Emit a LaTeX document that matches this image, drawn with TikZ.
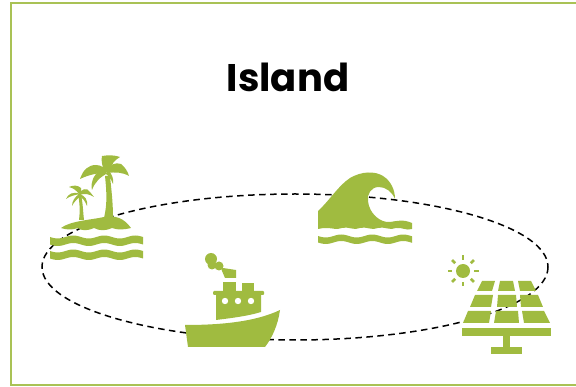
\documentclass[tikz,border=0pt]{standalone}
\usepackage{fontspec}
\setmainfont{Poppins}
\usepackage{xcolor}
\usepackage{tikz}
\definecolor{leaf}{HTML}{A0BB40}
\definecolor{frameline}{HTML}{A9C255}
\newcommand{\waveband}[5]{% x0, x1, ytop, thickness, period
  \fill[icon] plot[domain=#1:#2, samples=50, smooth] (\x,{#3+1.5*sin((\x-#1)/#5*360)})
    -- plot[domain=#2:#1, samples=50, smooth] (\x,{#3+#4+1.5*sin((\x-#1)/#5*360)}) -- cycle;
}
\begin{document}
\begin{tikzpicture}[
        x=1pt, y=-1pt,
        icon/.style={fill=leaf, draw=none},
        orbit/.style={draw=black, line width=1.5pt, dash pattern=on 6.5pt off 4.5pt},
        frameedge/.style={draw=frameline, line width=2pt}
    ]
        \useasboundingbox (0,0) rectangle (576,387);
        \draw[frameedge] (576,3.5) -- (10.5,3.5) -- (10.5,385) -- (576,385);
        \node[font=\bfseries\fontsize{38.5}{42}\selectfont, inner sep=0pt] (title) at (288,77) {Island};

        % route round the icons
        \draw[orbit] (295,267) ellipse [x radius=253, y radius=73];

        % island
        \waveband{50}{143}{237}{7.5}{31}
        \waveband{50}{143}{251}{7.5}{31}
        \fill[icon] (61,228) .. controls (70,221) and (90,220) .. (104,217) .. controls (115,215) and (124,218) .. (131,228)
            .. controls (122,230) and (118,230) .. (112,228) .. controls (105,231) and (100,231) .. (94,228)
            .. controls (87,231) and (82,231) .. (78,228) .. controls (72,230) and (67,230) .. (61,228) -- cycle;
        \fill[icon] (104,218) .. controls (107,205) and (107,195) .. (105,176) -- (110,176) .. controls (112,195) and (113,205) .. (113,218) -- cycle;
        \fill[icon] (80,179) .. controls (83,170) and (88,165) .. (96,165) .. controls (101,165) and (105,168) .. (108,172)
            .. controls (100,173) and (90,174) .. (80,179) -- cycle;
        \fill[icon] (92,190) .. controls (90,182) and (94,175) .. (100,170) -- (108,173) .. controls (100,177) and (95,182) .. (92,190) -- cycle;
        \fill[icon] (104,171) .. controls (102,165) and (101,160) .. (102,156) .. controls (108,155) and (115,155) .. (120,157)
            .. controls (115,160) and (111,164) .. (110,171) -- cycle;
        \fill[icon] (107,172) .. controls (109,164) and (116,162) .. (121,164) .. controls (125,167) and (128,172) .. (129,176)
            .. controls (122,172) and (115,172) .. (107,173) -- cycle;
        \fill[icon] (108,170) .. controls (112,174) and (114,179) .. (113,184) .. controls (111,179) and (109,176) .. (106,174) -- cycle;
        \fill[icon] (79,220) .. controls (80,212) and (80,204) .. (78,194) -- (81,194) .. controls (83,204) and (83,212) .. (84,220) -- cycle;
        \fill[icon] (66,199) .. controls (68,194) and (73,191) .. (80,194) .. controls (75,195) and (70,196) .. (66,199) -- cycle;
        \fill[icon] (79,194) .. controls (76,190) and (73,188) .. (69,187) .. controls (73,185) and (78,185) .. (81,188) -- (81,193) -- cycle;
        \fill[icon] (79,194) .. controls (81,189) and (87,187) .. (90,192) -- (94,197) .. controls (89,194) and (85,193) .. (79,195) -- cycle;
        \fill[icon] (80,194) .. controls (85,196) and (88,200) .. (87,206) .. controls (85,201) and (83,198) .. (79,196) -- cycle;
        \fill[icon] (79,194) .. controls (75,197) and (72,201) .. (72,206) .. controls (74,202) and (77,199) .. (81,196) -- cycle;

        % wave
        \fill[icon] (318,211) .. controls (330,200) and (338,186) .. (350,178) .. controls (362,171) and (375,171) .. (383,176)
            .. controls (391,181) and (395,190) .. (395,199) .. controls (392,192) and (386,187) .. (379,187)
            .. controls (371,187) and (367,194) .. (368,201) .. controls (369,213) and (380,223) .. (390,222)
            .. controls (397,221) and (403,219) .. (412,223) -- (412,229)
            .. controls (406,231) and (402,227) .. (396,228) .. controls (390,231) and (384,226) .. (378,228)
            .. controls (372,231) and (366,226) .. (360,228) .. controls (354,231) and (348,226) .. (342,228)
            .. controls (336,231) and (330,226) .. (318,229) -- cycle;
        \waveband{318}{412}{236}{6.5}{31}

        % boat
        \fill[icon] (185,325) .. controls (220,325) and (255,322) .. (280,310) .. controls (278,325) and (272,338) .. (265,347)
            -- (188,347) -- cycle;
        \fill[icon] (216,295) -- (261,295) -- (261,312) .. controls (248,316) and (232,318) .. (216,320) -- cycle;
        \fill[icon, rounded corners=1pt] (213,291) rectangle (264,295);
        \fill[icon] (223,282) rectangle (236,291);
        \fill[icon] (242,283) rectangle (254,291);
        \foreach \wx in {225,238,251}
            \fill[white] (\wx,301) circle (3.2);
        \fill[icon] (211,259) circle (6);
        \fill[icon] (212,265) circle (4.5);
        \fill[icon] (219,266) circle (4.5);
        \fill[icon] (219,262) -- (223,268) -- (236,270) -- (236,278) -- (225,278) -- (222,271) -- cycle;

        % solar panel
        \fill[icon] (463,271) circle (7);
        \foreach \ang in {0,45,...,315}
            \draw[leaf, line width=2.6pt] (463,271) ++(\ang:11) -- ++(\ang:4.5);
        \fill[icon] (482,281) -- (495,281) -- (492,291) -- (477,291) -- cycle;
        \fill[icon] (500,281) -- (513,281) -- (515,291) -- (498,291) -- cycle;
        \fill[icon] (518,281) -- (531,281) -- (536,291) -- (520,291) -- cycle;
        \fill[icon] (475,295) -- (493,295) -- (491,307) -- (470,307) -- cycle;
        \fill[icon] (498,295) -- (516,295) -- (517,307) -- (497,307) -- cycle;
        \fill[icon] (520,295) -- (538,295) -- (543,307) -- (521,307) -- cycle;
        \fill[icon] (468,311) -- (491,311) -- (489,323) -- (463,323) -- cycle;
        \fill[icon] (496,311) -- (518,311) -- (519,323) -- (494,323) -- cycle;
        \fill[icon] (522,311) -- (544,311) -- (550,323) -- (524,323) -- cycle;
        \fill[icon] (462,328) rectangle (551,336);
        \fill[icon] (503,336) rectangle (510,347);
        \fill[icon] (491,347) rectangle (522,354);
    \end{tikzpicture}
\end{document}
